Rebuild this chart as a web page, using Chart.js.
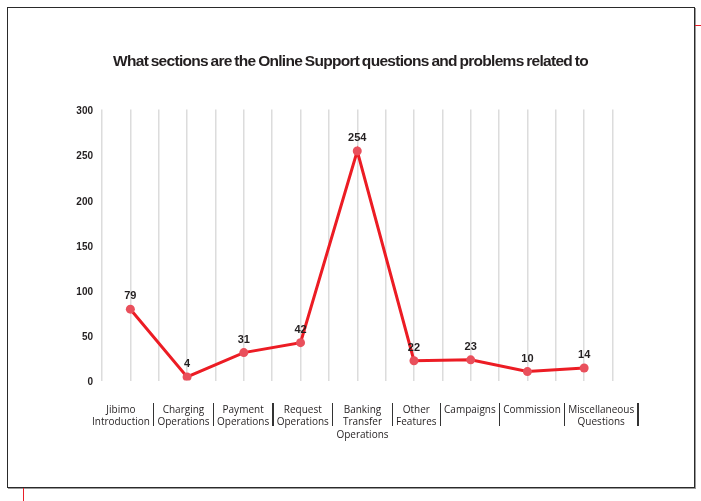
<!DOCTYPE html>
<html>
<head>
<meta charset="utf-8">
<script src="https://cdn.jsdelivr.net/npm/chart.js@4"></script>
<style>
  body { margin: 0; background: #fff; }
  #wrap { position: relative; width: 701px; height: 501px; overflow: hidden; }
  #box { position: absolute; left: 7px; top: 7px; width: 686px; height: 479px; border: 1px solid #2a2a2a; box-shadow: 1px 1px 0 #9a9a9a; }
  #myChart1 { position: absolute; left: 0; top: 0; }
  .mark { position: absolute; background: #e8202a; }
  #title { position: absolute; left: 0; width: 701px; top: 52px; text-align: center; font-family: "Liberation Sans", Arial, sans-serif; font-weight: bold; font-size: 15.5px; letter-spacing: -0.7px; word-spacing: -1px; color: #231f20; white-space: nowrap; }
  #labels { position: absolute; left: 89px; top: 403px; display: flex; align-items: flex-start; font-family: "Open Sans", "Noto Sans", sans-serif; font-size: 10px; line-height: 12.3px; color: #231f20; }
  #labels .cell { padding: 0 3px; text-align: center; white-space: nowrap; }
  #labels .sep { width: 1.5px; height: 23px; background: #333; }
</style>
</head>
<body>
<div id="wrap">
  <div id="box"></div>
  <div class="mark" style="left:695px; top:25px; width:6px; height:1px;"></div>
  <div class="mark" style="left:23px; top:488px; width:1px; height:13px;"></div>
  <canvas id="myChart1" width="701" height="501"></canvas>
  <div id="title"></div>
  <div id="labels"></div>
</div>
<script>
let categories = [
  ['Jibimo', 'Introduction'],
  ['Charging', 'Operations'],
  ['Payment', 'Operations'],
  ['Request', 'Operations'],
  ['Banking', 'Transfer', 'Operations'],
  ['Other', 'Features'],
  ['Campaigns'],
  ['Commission'],
  ['Miscellaneous', 'Questions']
];
let questions = [79, 4, 31, 42, 254, 22, 23, 10, 14];
let yTicks = [0, 50, 100, 150, 200, 250, 300];
let chartTitle = 'What sections are the Online Support questions and problems related to';

document.getElementById('title').textContent = chartTitle;

// category labels row under the plot, separated by bars
let row = document.getElementById('labels');
categories.forEach(lines => {
  let cell = document.createElement('div');
  cell.className = 'cell';
  cell.innerHTML = lines.join('<br>');
  row.appendChild(cell);
  let sep = document.createElement('div');
  sep.className = 'sep';
  row.appendChild(sep);
});

// value written above each point
let pointValues = {
  id: 'pointValues',
  afterDatasetsDraw: (chart) => {
    let ctx = chart.ctx;
    let meta = chart.getDatasetMeta(0);
    ctx.save();
    ctx.font = 'bold 11px "Liberation Sans", Arial, sans-serif';
    ctx.fillStyle = '#231f20';
    ctx.textAlign = 'center';
    ctx.textBaseline = 'middle';
    meta.data.forEach((pt, i) => {
      ctx.fillText(chart.data.datasets[0].data[i], pt.x, pt.y - 13);
    });
    ctx.restore();
  }
};

let status = document.getElementById('myChart1').getContext('2d');
let lineChart = new Chart(status, {
  type: 'line',
  data: {
    labels: categories,
    datasets: [{
      data: questions,
      borderColor: '#ec1c24',
      borderWidth: 3,
      tension: 0,
      pointRadius: 4.5,
      pointBackgroundColor: '#e9505c',
      pointBorderWidth: 0,
      fill: false
    }]
  },
  options: {
    responsive: false,
    animation: false,
    layout: {
      padding: { left: 0, top: 109.4, right: 88.5, bottom: 120.4 }
    },
    plugins: {
      legend: { display: false },
      tooltip: { enabled: false },
      title: { display: false }
    },
    scales: {
      x: {
        type: 'category',
        display: false,
        offset: true
      },
      xg: {
        type: 'linear',
        position: 'bottom',
        min: 0,
        max: categories.length * 2,
        grid: { color: '#dcdcdc', lineWidth: 1.5, drawTicks: false },
        border: { display: false },
        ticks: { display: false, stepSize: 1 },
        afterFit: (scale) => { scale.height = 0; }
      },
      y: {
        min: yTicks[0],
        max: yTicks[yTicks.length - 1],
        afterBuildTicks: (scale) => { scale.ticks = yTicks.map(v => ({ value: v })); },
        grid: { display: false, drawTicks: false },
        border: { display: false },
        ticks: {
          padding: 9,
          labelOffset: 2,
          color: '#231f20',
          font: { family: '"Liberation Sans", Arial, sans-serif', size: 10, weight: 'bold' }
        },
        afterFit: (scale) => { scale.width = 102; }
      }
    }
  },
  plugins: [pointValues]
});
</script>
</body>
</html>
